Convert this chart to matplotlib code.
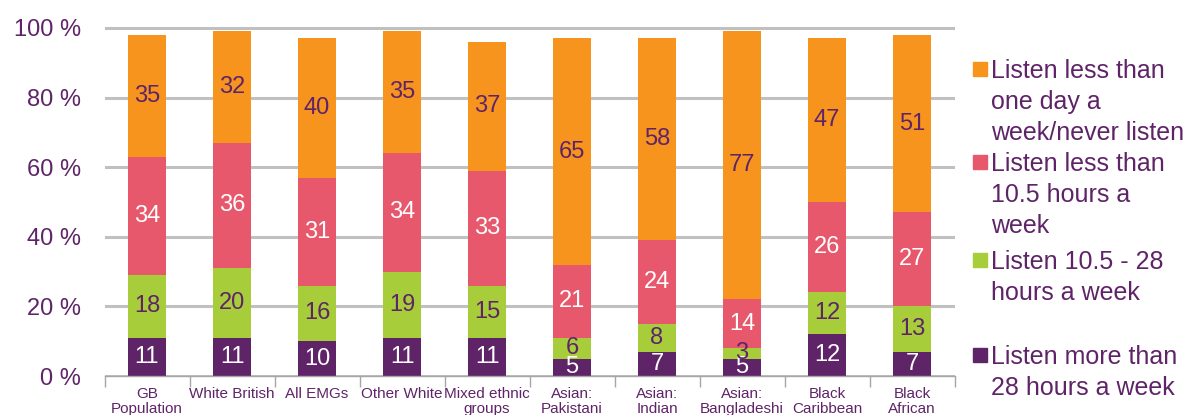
import matplotlib

matplotlib.use("Agg")
from matplotlib import pyplot as plt
from matplotlib.patches import Rectangle
import numpy as np

plt.rcParams["font.family"] = ["Liberation Sans", "DejaVu Sans"]

groups = ["GB\nPopulation", "White British", "All EMGs", "Other White",
          "Mixed ethnic\ngroups", "Asian:\nPakistani", "Asian:\nIndian",
          "Asian:\nBangladeshi", "Black\nCaribbean", "Black\nAfrican"]

# stacked from the bottom up
more_28 = [11, 11, 10, 11, 11, 5, 7, 5, 12, 7]
hrs_10_28 = [18, 20, 16, 19, 15, 6, 8, 3, 12, 13]
less_10 = [34, 36, 31, 34, 33, 21, 24, 14, 26, 27]
less_day = [35, 32, 40, 35, 37, 65, 58, 77, 47, 51]

series_names = ["Listen more than\n28 hours a week",
                "Listen 10.5 - 28\nhours a week",
                "Listen less than\n10.5 hours a\nweek",
                "Listen less than\none day a\nweek/never listen"]

PURPLE = "#5F2468"
colors = [PURPLE, "#A7CE3A", "#E7586C", "#F7941E"]
text_colors = ["white", PURPLE, "white", PURPLE]

W, H = 1194, 415
fig = plt.figure(figsize=(W / 100, H / 100), dpi=100)
px = 348 / 100  # pixels per percent
ytop = 101
ax = fig.add_axes([104.5 / W, 39 / H, 850 / W, ytop * px / H])

x = np.arange(len(groups))
bottom = np.zeros(len(groups))
for vals, c, tc in zip([more_28, hrs_10_28, less_10, less_day], colors, text_colors):
    vals = np.array(vals, dtype=float)
    ax.bar(x, vals, bottom=bottom, width=0.44, color=c, zorder=2)
    for xi, b, v in zip(x, bottom, vals):
        ax.text(xi, b + v / 2, f"{v:.0f}", ha="center", va="center",
                fontsize=17, color=tc, zorder=3)
    bottom += vals

ax.set_xlim(-0.5, len(groups) - 0.5)
ax.set_ylim(0, ytop)
ax.set_yticks(range(0, 101, 20))
ax.set_yticklabels([f"{v} %" for v in range(0, 101, 20)])
ax.yaxis.grid(True, color="#C0C0C0", linewidth=2.2, zorder=0)
ax.tick_params(axis="y", length=0, pad=17, labelsize=17, labelcolor=PURPLE)

ax.set_xticks(x)
ax.set_xticklabels(groups, linespacing=1.05)
ax.set_xticks(np.arange(-0.5, len(groups)), minor=True)
ax.tick_params(axis="x", which="major", length=0, pad=8, labelsize=11,
               labelcolor=PURPLE)
ax.tick_params(axis="x", which="minor", length=8, width=1, color="#A6A6A6")

for s in ["top", "left", "right"]:
    ax.spines[s].set_visible(False)
ax.spines["bottom"].set_color("#A6A6A6")
ax.spines["bottom"].set_linewidth(1)

# legend drawn by hand so the swatch sits on the first line of each entry
legend_rows = [62, 155, 253, 348]  # top of swatch, pixels from top
for name, c, top in zip(series_names[::-1], colors[::-1], legend_rows):
    fig.patches.append(Rectangle((973 / W, 1 - (top + 14) / H), 14 / W, 14 / H,
                                 transform=fig.transFigure, color=c))
    fig.text(991 / W, 1 - (top - 3) / H, name, ha="left", va="top",
             fontsize=18, color=PURPLE, linespacing=1.36)

fig.savefig("out.png", dpi=100)
plt.close(fig)
